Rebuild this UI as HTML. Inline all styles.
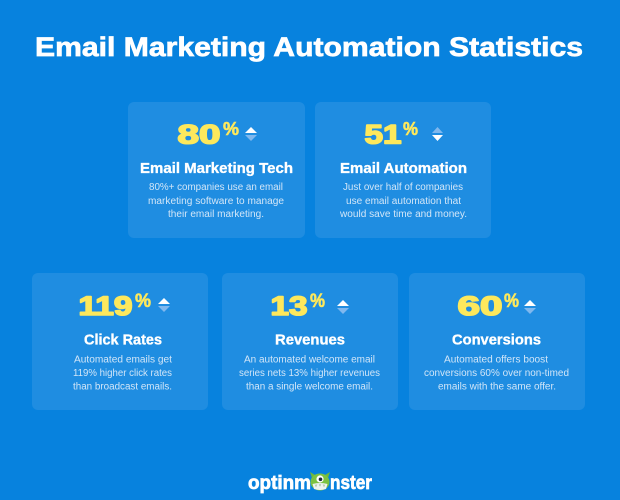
<!DOCTYPE html>
<html>
<head>
<meta charset="utf-8">
<style>
html,body{margin:0;padding:0;background:#0782de;}
svg{display:block;}
text{font-family:"Liberation Sans",Arial,sans-serif;}
.t{fill:#fff;font-weight:bold;stroke:#fff;stroke-width:0.7;}
.n{fill:#fde85c;font-weight:bold;stroke:#fde85c;stroke-width:1.6;stroke-linejoin:round;}
.p{fill:#fde85c;font-weight:bold;stroke:#fde85c;stroke-width:0.6;}
.b{fill:#d2e6f8;font-size:10px;}
.h{fill:#fff;font-weight:bold;font-size:15px;stroke:#fff;stroke-width:0.35;}
</style>
</head>
<body>
<svg width="620" height="500" viewBox="0 0 620 500" xmlns="http://www.w3.org/2000/svg">
<rect x="0" y="0" width="620" height="500" fill="#0782de"/>
<text class="t" x="35" y="56" font-size="27" textLength="548" lengthAdjust="spacingAndGlyphs">Email Marketing Automation Statistics</text>

<!-- cards -->
<g fill="#1f8de1">
<rect x="128" y="102" width="177" height="136" rx="6"/>
<rect x="315" y="102" width="176" height="136" rx="6"/>
<rect x="32" y="273" width="176" height="137" rx="6"/>
<rect x="222" y="273" width="176" height="137" rx="6"/>
<rect x="409" y="273" width="176" height="137" rx="6"/>
</g>

<!-- Card 1 -->
<text class="n" x="177.5" y="143.5" font-size="27" textLength="43" lengthAdjust="spacingAndGlyphs">80</text>
<text class="p" x="223" y="135" font-size="18" textLength="16" lengthAdjust="spacingAndGlyphs">%</text>
<polygon points="245,133 251,127 257,133" fill="#ffffff"/>
<polygon points="245,135 257,135 251,141" fill="#80b8ee"/>
<text class="h" x="140" y="173" textLength="153" lengthAdjust="spacingAndGlyphs">Email Marketing Tech</text>
<text class="b" x="149" y="190" textLength="134" lengthAdjust="spacingAndGlyphs">80%+ companies use an email</text>
<text class="b" x="148" y="204" textLength="136" lengthAdjust="spacingAndGlyphs">marketing software to manage</text>
<text class="b" x="168" y="217" textLength="96" lengthAdjust="spacingAndGlyphs">their email marketing.</text>

<!-- Card 2 -->
<text class="n" x="364.5" y="143.5" font-size="27" textLength="37" lengthAdjust="spacingAndGlyphs">51</text>
<text class="p" x="403" y="135" font-size="18" textLength="15" lengthAdjust="spacingAndGlyphs">%</text>
<polygon points="432,133 437.5,127 443,133" fill="#80b8ee"/>
<polygon points="432,135 443,135 437.5,141" fill="#ffffff"/>
<text class="h" x="340" y="173" textLength="127" lengthAdjust="spacingAndGlyphs">Email Automation</text>
<text class="b" x="343" y="190" textLength="120" lengthAdjust="spacingAndGlyphs">Just over half of companies</text>
<text class="b" x="346" y="204" textLength="115" lengthAdjust="spacingAndGlyphs">use email automation that</text>
<text class="b" x="340" y="217" textLength="127" lengthAdjust="spacingAndGlyphs">would save time and money.</text>

<!-- Card 3 -->
<text class="n" x="78.5" y="315" font-size="27" textLength="54" lengthAdjust="spacingAndGlyphs">119</text>
<text class="p" x="135" y="307" font-size="19" textLength="16" lengthAdjust="spacingAndGlyphs">%</text>
<polygon points="158,304 164,298 170,304" fill="#ffffff"/>
<polygon points="158,306 170,306 164,312" fill="#80b8ee"/>
<text class="h" x="84" y="344.5" textLength="78" lengthAdjust="spacingAndGlyphs">Click Rates</text>
<text class="b" x="74" y="362.5" textLength="98" lengthAdjust="spacingAndGlyphs">Automated emails get</text>
<text class="b" x="73" y="376" textLength="99" lengthAdjust="spacingAndGlyphs">119% higher click rates</text>
<text class="b" x="73" y="389.5" textLength="99" lengthAdjust="spacingAndGlyphs">than broadcast emails.</text>

<!-- Card 4 -->
<text class="n" x="270.5" y="315" font-size="27" textLength="37" lengthAdjust="spacingAndGlyphs">13</text>
<text class="p" x="310" y="307" font-size="19" textLength="15" lengthAdjust="spacingAndGlyphs">%</text>
<polygon points="337,306 343,300 349,306" fill="#ffffff"/>
<polygon points="337,308 349,308 343,314" fill="#80b8ee"/>
<text class="h" x="275" y="344.5" textLength="70" lengthAdjust="spacingAndGlyphs">Revenues</text>
<text class="b" x="244" y="362.5" textLength="131" lengthAdjust="spacingAndGlyphs">An automated welcome email</text>
<text class="b" x="239" y="376" textLength="141" lengthAdjust="spacingAndGlyphs">series nets 13% higher revenues</text>
<text class="b" x="246" y="389.5" textLength="127" lengthAdjust="spacingAndGlyphs">than a single welcome email.</text>

<!-- Card 5 -->
<text class="n" x="457.5" y="315" font-size="27" textLength="45" lengthAdjust="spacingAndGlyphs">60</text>
<text class="p" x="504" y="307" font-size="19" textLength="15" lengthAdjust="spacingAndGlyphs">%</text>
<polygon points="524,306 530,300 536,306" fill="#ffffff"/>
<polygon points="524,308 536,308 530,314" fill="#80b8ee"/>
<text class="h" x="452" y="344.5" textLength="89" lengthAdjust="spacingAndGlyphs">Conversions</text>
<text class="b" x="444" y="362.5" textLength="104" lengthAdjust="spacingAndGlyphs">Automated offers boost</text>
<text class="b" x="424" y="376" textLength="145" lengthAdjust="spacingAndGlyphs">conversions 60% over non-timed</text>
<text class="b" x="438" y="389.5" textLength="118" lengthAdjust="spacingAndGlyphs">emails with the same offer.</text>

<!-- Logo -->
<text class="t" x="248" y="489" font-size="19" textLength="63" lengthAdjust="spacingAndGlyphs">optinm</text>
<text class="t" x="330" y="489" font-size="19" textLength="42" lengthAdjust="spacingAndGlyphs">nster</text>
<g>
  <polygon points="312,478 310,472 315,475" fill="#6fb83c"/>
  <polygon points="328,478 330,472 325,475" fill="#6fb83c"/>
  <ellipse cx="320" cy="482" rx="9.5" ry="8.5" fill="#7cc242"/>
  <circle cx="320" cy="479" r="3.6" fill="#ffffff"/>
  <circle cx="320.5" cy="479.3" r="1.8" fill="#1d2b3a"/>
  <path d="M312.5,484 Q320,482 327.5,484 L326,489 Q320,491 314,489 Z" fill="#eef3f0"/>
  <path d="M315,484.5 L316,486.5 L317,484.2 M319,483.8 L320,486 L321,483.8 M323,484.2 L324,486.5 L325,484.5" stroke="#9fbf9a" stroke-width="0.6" fill="none"/>
</g>
</svg>
</body>
</html>
